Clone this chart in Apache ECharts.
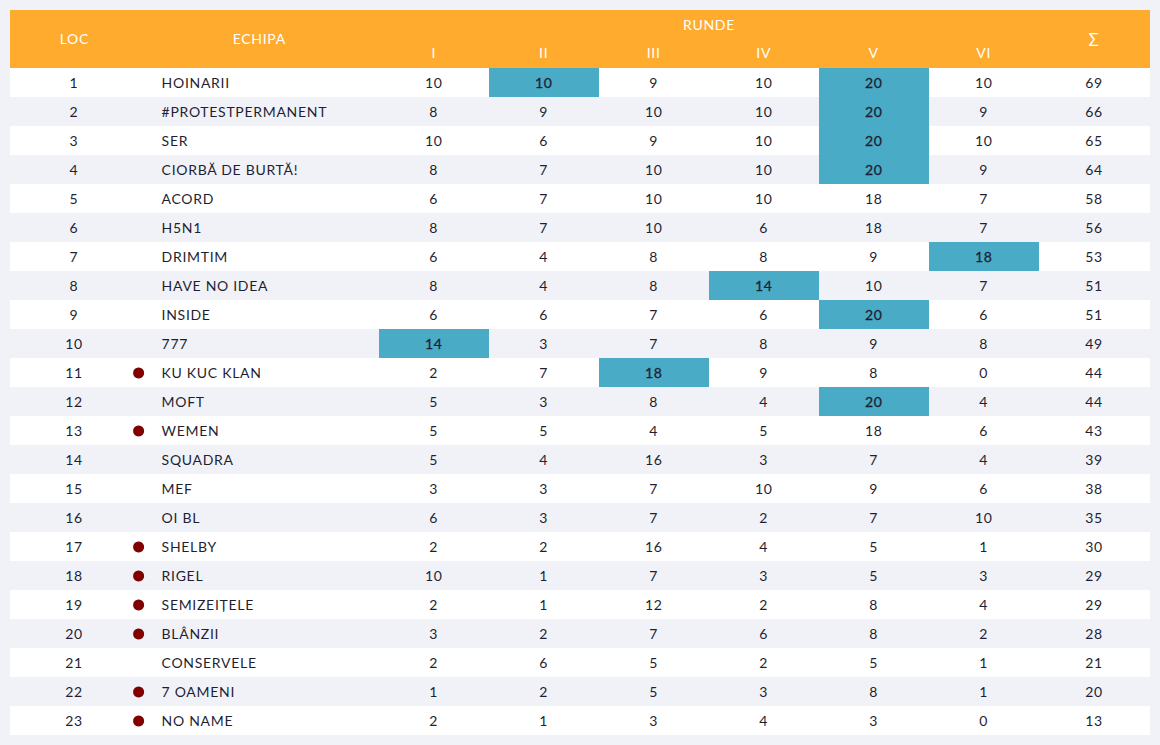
<!DOCTYPE html>
<html><head><meta charset="utf-8">
<script src="https://cdn.jsdelivr.net/npm/echarts@6/dist/echarts.min.js"></script>
<style>
html,body{margin:0;padding:0;background:#f1f2f8;}
#c{width:1160px;height:745px;}
#c text{letter-spacing:.7px;}
</style></head><body><div id="c"></div>
<script>
const ranks=[1,2,3,4,5,6,7,8,9,10,11,12,13,14,15,16,17,18,19,20,21,22,23];
const teams=["HOINARII","#PROTESTPERMANENT","SER","CIORBĂ DE BURTĂ!","ACORD","H5N1","DRIMTIM","HAVE NO IDEA","INSIDE","777","KU KUC KLAN","MOFT","WEMEN","SQUADRA","MEF","OI BL","SHELBY","RIGEL","SEMIZEIȚELE","BLÂNZII","CONSERVELE","7 OAMENI","NO NAME"];
const roundI =[10,8,10,8,6,8,6,8,6,14,2,5,5,5,3,6,2,10,2,3,2,1,2];
const roundII=[10,9,6,7,7,7,4,4,6,3,7,3,5,4,3,3,2,1,1,2,6,2,1];
const roundIII=[9,10,9,10,10,10,8,8,7,7,18,8,4,16,7,7,16,7,12,7,5,5,3];
const roundIV=[10,10,10,10,10,6,8,14,6,8,9,4,5,3,10,2,4,3,2,6,2,3,4];
const roundV=[20,20,20,20,18,18,9,10,20,9,8,20,18,7,9,7,5,5,8,8,5,8,3];
const roundVI=[10,9,10,9,7,7,18,7,6,8,0,4,6,4,6,10,1,3,4,2,1,1,0];
const totals=[69,66,65,64,58,56,53,51,51,49,44,44,43,39,38,35,30,29,29,28,21,20,13];
const markedRanks=[11,13,17,18,19,20,22,23];
// [rank, round number] of the highlighted cells
const highlighted=[[1,2],[1,5],[2,5],[3,5],[4,5],[7,6],[8,4],[9,5],[10,1],[11,3],[12,5]];
const roundNames=["I","II","III","IV","V","VI"];
const headerLoc="LOC",headerTeam="ECHIPA",headerRounds="RUNDE",headerSum="Σ";

const rounds=[roundI,roundII,roundIII,roundIV,roundV,roundVI];
const font="Lato";
const ink="#1f1f33";
// layout: x axis runs in page pixels from the table's left edge
const X={loc:64,dot:128.6,team:151.6,echipa:249.3,round:369,rw:110,sum:1084,end:1140};
const rowKeys=["h1","h2"].concat(ranks.map(String));
const rowIdx=k=>rowKeys.indexOf(String(k));

const cells=[];
function add(x,row,text,o){cells.push(Object.assign({x,row,text,align:'center',fill:ink,size:14,dy:0,hi:false},o||{}));}
ranks.forEach((r,i)=>{
  add(X.loc,rowIdx(r),String(r));
  add(X.team,rowIdx(r),teams[i],{align:'left'});
  rounds.forEach((vals,c)=>{
    const hi=highlighted.some(h=>h[0]===r&&h[1]===c+1);
    add(X.round+X.rw*(c+.5)-.3,rowIdx(r),String(vals[i]),{hi});
  });
  add(X.sum,rowIdx(r),String(totals[i]));
});
add(X.round+X.rw*3,0,headerRounds,{fill:'#fff'});
roundNames.forEach((n,c)=>add(X.round+X.rw*(c+.5)-.3,1,n,{fill:'#fff',dy:-.7}));
add(X.loc+.4,.5,headerLoc,{fill:'#fff',dy:-1});
add(X.echipa,.5,headerTeam,{fill:'#fff',dy:-1});
add(X.sum,.5,headerSum,{fill:'#fff',size:17});

function rectAt(api,x0,x1,row,rows){
  const a=api.coord([x0,row]),b=api.coord([x1,row]);
  const h=api.size([0,1])[1];
  return {x:a[0],y:a[1]-h/2,width:b[0]-a[0],height:h*rows};
}
const chart=echarts.init(document.getElementById('c'),null,{renderer:'svg'});
chart.setOption({
  animation:false,
  backgroundColor:'#f1f2f8',
  grid:{left:10,top:10,width:1140,height:725,containLabel:false},
  xAxis:{type:'value',min:0,max:X.end,show:false},
  yAxis:{type:'category',inverse:true,data:rowKeys,show:false,boundaryGap:true},
  tooltip:{show:false},
  series:[
    {type:'custom',name:'rows',silent:true,z:1,coordinateSystem:'cartesian2d',
     data:rowKeys.map((k,i)=>[0,i]),
     renderItem(p,api){
       const i=api.value(1);
       if(i===1) return null;
       if(i===0) return {type:'rect',shape:rectAt(api,0,X.end,0,2),style:{fill:'#ffab2e'}};
       return {type:'rect',shape:rectAt(api,0,X.end,i,1),style:{fill:(i%2===0)?'#ffffff':'#f1f2f8'}};
     }},
    {type:'custom',name:'highlight',silent:true,z:2,coordinateSystem:'cartesian2d',
     data:highlighted.map(h=>[X.round+X.rw*(h[1]-1),rowIdx(h[0])]),
     renderItem(p,api){
       const x=api.value(0),i=api.value(1);
       return {type:'rect',shape:rectAt(api,x,x+X.rw,i,1),style:{fill:'#4aabc6'}};
     }},
    {type:'scatter',name:'marked',silent:true,z:3,symbol:'circle',symbolSize:11,symbolOffset:[0,.6],
     data:markedRanks.map(r=>[X.dot,rowIdx(r)]),
     itemStyle:{color:'#800000',opacity:1}},
    {type:'custom',name:'text',silent:true,z:4,coordinateSystem:'cartesian2d',
     data:cells.map(c=>[c.x,c.row]),
     renderItem(p,api){
       const c=cells[p.dataIndex];
       const pos=api.coord([c.x,Math.floor(c.row)]);
       const h=api.size([0,1])[1];
       const style={x:pos[0],y:pos[1]+(c.row%1)*h+c.dy,text:c.text,align:c.align,verticalAlign:'middle',
         fill:c.fill,fontFamily:font,fontSize:c.size};
       if(c.hi){style.stroke=c.fill;style.lineWidth=.3;}
       return {type:'text',style};
     }}
  ]
});
</script></body></html>
